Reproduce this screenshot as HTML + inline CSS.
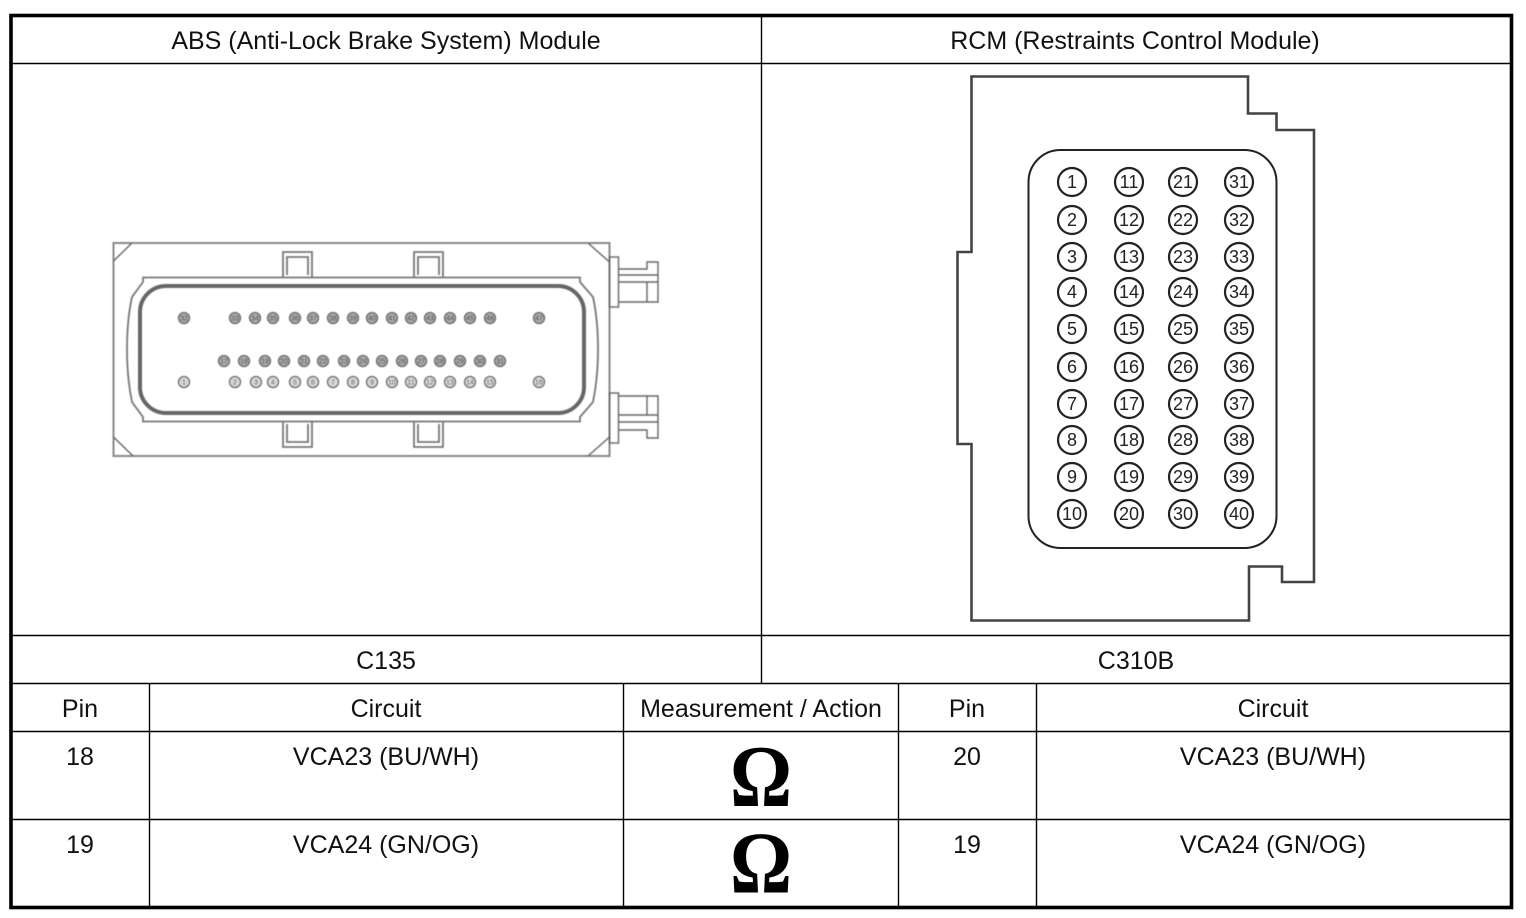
<!DOCTYPE html>
<html><head><meta charset="utf-8"><style>
html,body{margin:0;padding:0;background:#fff;width:1526px;height:918px;overflow:hidden}
svg{display:block}
.t{font-family:"Liberation Sans",sans-serif;font-size:25px;fill:#111;text-anchor:middle}
.p{font-family:"Liberation Sans",sans-serif;font-size:18px;fill:#222;text-anchor:middle}
.m{font-family:"Liberation Sans",sans-serif;font-size:7px;fill:#444;text-anchor:middle}
.o{font-family:"Liberation Serif",serif;font-weight:bold;font-size:88px;fill:#000;text-anchor:middle}
</style></head><body>
<svg width="1526" height="918" viewBox="0 0 1526 918" xmlns="http://www.w3.org/2000/svg">
<defs><filter id="b" x="-5%" y="-5%" width="110%" height="110%"><feGaussianBlur stdDeviation="0.5"/></filter></defs>
<rect width="1526" height="918" fill="#fff"/>
<g stroke="#000" stroke-width="1.400" fill="none">
<path d="M11 63.500H1511M11 635.500H1511M11 683.500H1511M11 731.500H1511M11 819.500H1511"/>
<path d="M761.500 16V683M149.500 683V907M623.500 683V907M898.500 683V907M1036.500 683V907"/>
</g>
<rect x="11" y="15.500" width="1500.500" height="892" fill="none" stroke="#000" stroke-width="3.600"/>
<g>
<text class="t" x="386" y="49">ABS (Anti-Lock Brake System) Module</text>
<text class="t" x="1135" y="49">RCM (Restraints Control Module)</text>
<text class="t" x="386" y="669">C135</text>
<text class="t" x="1136" y="669">C310B</text>
<text class="t" x="80" y="717">Pin</text>
<text class="t" x="386" y="717">Circuit</text>
<text class="t" x="761" y="717">Measurement / Action</text>
<text class="t" x="967" y="717">Pin</text>
<text class="t" x="1273" y="717">Circuit</text>
<text class="t" x="80" y="765">18</text>
<text class="t" x="386" y="765">VCA23 (BU/WH)</text>
<text class="t" x="967" y="765">20</text>
<text class="t" x="1273" y="765">VCA23 (BU/WH)</text>
<text class="t" x="80" y="853">19</text>
<text class="t" x="386" y="853">VCA24 (GN/OG)</text>
<text class="t" x="967" y="853">19</text>
<text class="t" x="1273" y="853">VCA24 (GN/OG)</text>
</g>
<text class="o" transform="translate(761 806) scale(.88 1)" x="0" y="0">Ω</text>
<text class="o" transform="translate(761 892.500) scale(.88 1)" x="0" y="0">Ω</text>

<!-- ABS connector -->
<g filter="url(#b)">
<g fill="none" stroke="#666" stroke-width="1.400">
<rect x="113.500" y="243" width="496" height="213" stroke="#888" stroke-width="2"/>
<path d="M113.500 261L132 243M113.500 437L133 456M588 243L609.500 262M609.500 437L588 456"/>
<path d="M143 277.500H580V282L593 297Q598 320 598 349Q598 378 593 402L580 417V421.500H143V417L132 402Q127 378 127 349Q127 320 132 297L143 282Z" stroke="#777" stroke-width="1.800"/>
<rect x="140" y="286" width="444" height="127" rx="26" stroke="#666" stroke-width="4"/>
<path d="M283 277V252H312V277M287 275V257H308V275" stroke="#777" stroke-width="1.800"/>
<path d="M414 277V252H443V277M418 275V257H439V275" stroke="#777" stroke-width="1.800"/>
<path d="M283 422V447H312V422M287 424V442H308V424" stroke="#777" stroke-width="1.800"/>
<path d="M414 422V447H443V422M418 424V442H439V424" stroke="#777" stroke-width="1.800"/>
<rect x="609.500" y="257" width="9" height="50"/>
<rect x="609.500" y="393" width="9" height="50"/>
<path d="M618 269H647V262H658V302H618M618 275H658M618 282H658M647 282V302"/>
<path d="M618 396H658V438H647V430H618M618 415H658M618 422H658M647 396V415"/>
</g>
<g fill="#aaa" stroke="#666" stroke-width="1.300">
<circle cx="184" cy="318" r="5.500"/><circle cx="235" cy="318" r="5.500"/><circle cx="255" cy="318" r="5.500"/><circle cx="273" cy="318" r="5.500"/><circle cx="295" cy="318" r="5.500"/><circle cx="313" cy="318" r="5.500"/><circle cx="333" cy="318" r="5.500"/><circle cx="353" cy="318" r="5.500"/><circle cx="372" cy="318" r="5.500"/><circle cx="392" cy="318" r="5.500"/><circle cx="411" cy="318" r="5.500"/><circle cx="430" cy="318" r="5.500"/><circle cx="450" cy="318" r="5.500"/><circle cx="470" cy="318" r="5.500"/><circle cx="490" cy="318" r="5.500"/><circle cx="539" cy="318" r="5.500"/>
<circle cx="224" cy="361" r="5.500"/><circle cx="244" cy="361" r="5.500"/><circle cx="265" cy="361" r="5.500"/><circle cx="284" cy="361" r="5.500"/><circle cx="304" cy="361" r="5.500"/><circle cx="323" cy="361" r="5.500"/><circle cx="344" cy="361" r="5.500"/><circle cx="363" cy="361" r="5.500"/><circle cx="382" cy="361" r="5.500"/><circle cx="402" cy="361" r="5.500"/><circle cx="421" cy="361" r="5.500"/><circle cx="440" cy="361" r="5.500"/><circle cx="460" cy="361" r="5.500"/><circle cx="480" cy="361" r="5.500"/><circle cx="500" cy="361" r="5.500"/>
</g>
<g fill="#d8d8d8" stroke="#666" stroke-width="1.300">
<circle cx="184" cy="382" r="5.500"/><circle cx="235" cy="382" r="5.500"/><circle cx="256" cy="382" r="5.500"/><circle cx="273" cy="382" r="5.500"/><circle cx="295" cy="382" r="5.500"/><circle cx="313" cy="382" r="5.500"/><circle cx="333" cy="382" r="5.500"/><circle cx="353" cy="382" r="5.500"/><circle cx="372" cy="382" r="5.500"/><circle cx="392" cy="382" r="5.500"/><circle cx="411" cy="382" r="5.500"/><circle cx="430" cy="382" r="5.500"/><circle cx="450" cy="382" r="5.500"/><circle cx="470" cy="382" r="5.500"/><circle cx="490" cy="382" r="5.500"/><circle cx="539" cy="382" r="5.500"/>
</g>
<g>
<text class="m" x="184" y="384.500">1</text><text class="m" x="235" y="384.500">2</text><text class="m" x="256" y="384.500">3</text><text class="m" x="273" y="384.500">4</text><text class="m" x="295" y="384.500">5</text><text class="m" x="313" y="384.500">6</text><text class="m" x="333" y="384.500">7</text><text class="m" x="353" y="384.500">8</text><text class="m" x="372" y="384.500">9</text><text class="m" x="392" y="384.500">10</text><text class="m" x="411" y="384.500">11</text><text class="m" x="430" y="384.500">12</text><text class="m" x="450" y="384.500">13</text><text class="m" x="470" y="384.500">14</text><text class="m" x="490" y="384.500">15</text><text class="m" x="539" y="384.500">16</text>
<text class="m" x="224" y="363.500">17</text><text class="m" x="244" y="363.500">18</text><text class="m" x="265" y="363.500">19</text><text class="m" x="284" y="363.500">20</text><text class="m" x="304" y="363.500">21</text><text class="m" x="323" y="363.500">22</text><text class="m" x="344" y="363.500">23</text><text class="m" x="363" y="363.500">24</text><text class="m" x="382" y="363.500">25</text><text class="m" x="402" y="363.500">26</text><text class="m" x="421" y="363.500">27</text><text class="m" x="440" y="363.500">28</text><text class="m" x="460" y="363.500">29</text><text class="m" x="480" y="363.500">30</text><text class="m" x="500" y="363.500">31</text>
<text class="m" x="184" y="320.500">32</text><text class="m" x="235" y="320.500">33</text><text class="m" x="255" y="320.500">34</text><text class="m" x="273" y="320.500">35</text><text class="m" x="295" y="320.500">36</text><text class="m" x="313" y="320.500">37</text><text class="m" x="333" y="320.500">38</text><text class="m" x="353" y="320.500">39</text><text class="m" x="372" y="320.500">40</text><text class="m" x="392" y="320.500">41</text><text class="m" x="411" y="320.500">42</text><text class="m" x="430" y="320.500">43</text><text class="m" x="450" y="320.500">44</text><text class="m" x="470" y="320.500">45</text><text class="m" x="490" y="320.500">46</text><text class="m" x="539" y="320.500">47</text>
</g>
</g>

<!-- RCM connector -->
<path d="M971.500 76.500H1248V113.500H1276.500V130H1314V582H1282V566.500H1249V620.500H971.500V444H957.500V252H971.500Z" fill="none" stroke="#444" stroke-width="2.600"/>
<rect x="1028.500" y="150" width="248" height="398" rx="32" fill="none" stroke="#222" stroke-width="2"/>
<g fill="none" stroke="#222" stroke-width="2.200">
<circle cx="1072" cy="182" r="14"/><circle cx="1072" cy="220" r="14"/><circle cx="1072" cy="257" r="14"/><circle cx="1072" cy="292" r="14"/><circle cx="1072" cy="329" r="14"/><circle cx="1072" cy="367" r="14"/><circle cx="1072" cy="404" r="14"/><circle cx="1072" cy="440" r="14"/><circle cx="1072" cy="477" r="14"/><circle cx="1072" cy="514" r="14"/>
<circle cx="1129" cy="182" r="14"/><circle cx="1129" cy="220" r="14"/><circle cx="1129" cy="257" r="14"/><circle cx="1129" cy="292" r="14"/><circle cx="1129" cy="329" r="14"/><circle cx="1129" cy="367" r="14"/><circle cx="1129" cy="404" r="14"/><circle cx="1129" cy="440" r="14"/><circle cx="1129" cy="477" r="14"/><circle cx="1129" cy="514" r="14"/>
<circle cx="1183" cy="182" r="14"/><circle cx="1183" cy="220" r="14"/><circle cx="1183" cy="257" r="14"/><circle cx="1183" cy="292" r="14"/><circle cx="1183" cy="329" r="14"/><circle cx="1183" cy="367" r="14"/><circle cx="1183" cy="404" r="14"/><circle cx="1183" cy="440" r="14"/><circle cx="1183" cy="477" r="14"/><circle cx="1183" cy="514" r="14"/>
<circle cx="1239" cy="182" r="14"/><circle cx="1239" cy="220" r="14"/><circle cx="1239" cy="257" r="14"/><circle cx="1239" cy="292" r="14"/><circle cx="1239" cy="329" r="14"/><circle cx="1239" cy="367" r="14"/><circle cx="1239" cy="404" r="14"/><circle cx="1239" cy="440" r="14"/><circle cx="1239" cy="477" r="14"/><circle cx="1239" cy="514" r="14"/>
</g>
<g>
<text class="p" x="1072" y="188">1</text><text class="p" x="1072" y="226">2</text><text class="p" x="1072" y="263">3</text><text class="p" x="1072" y="298">4</text><text class="p" x="1072" y="335">5</text><text class="p" x="1072" y="373">6</text><text class="p" x="1072" y="410">7</text><text class="p" x="1072" y="446">8</text><text class="p" x="1072" y="483">9</text><text class="p" x="1072" y="520">10</text>
<text class="p" x="1129" y="188">11</text><text class="p" x="1129" y="226">12</text><text class="p" x="1129" y="263">13</text><text class="p" x="1129" y="298">14</text><text class="p" x="1129" y="335">15</text><text class="p" x="1129" y="373">16</text><text class="p" x="1129" y="410">17</text><text class="p" x="1129" y="446">18</text><text class="p" x="1129" y="483">19</text><text class="p" x="1129" y="520">20</text>
<text class="p" x="1183" y="188">21</text><text class="p" x="1183" y="226">22</text><text class="p" x="1183" y="263">23</text><text class="p" x="1183" y="298">24</text><text class="p" x="1183" y="335">25</text><text class="p" x="1183" y="373">26</text><text class="p" x="1183" y="410">27</text><text class="p" x="1183" y="446">28</text><text class="p" x="1183" y="483">29</text><text class="p" x="1183" y="520">30</text>
<text class="p" x="1239" y="188">31</text><text class="p" x="1239" y="226">32</text><text class="p" x="1239" y="263">33</text><text class="p" x="1239" y="298">34</text><text class="p" x="1239" y="335">35</text><text class="p" x="1239" y="373">36</text><text class="p" x="1239" y="410">37</text><text class="p" x="1239" y="446">38</text><text class="p" x="1239" y="483">39</text><text class="p" x="1239" y="520">40</text>
</g>
</svg>
</body></html>
